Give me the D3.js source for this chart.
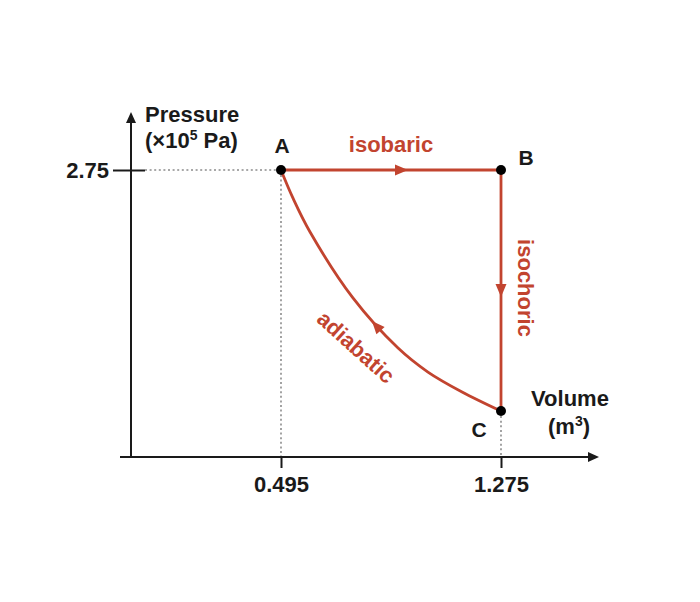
<!DOCTYPE html>
<html>
<head>
<meta charset="utf-8">
<script src="https://cdn.jsdelivr.net/npm/d3@7"></script>
<style>
  body { margin: 0; background: #fff; }
  text { font-family: "Liberation Sans", Arial, Helvetica, sans-serif; font-weight: bold; }
</style>
</head>
<body>
<div id="main-chart"></div>
<script>
// state points of the cycle
const stateLabels = ["A", "B", "C"];
const stateVolumes = [0.495, 1.275, 1.275];
const statePressures = [2.75, 2.75, 0.44];

// adiabatic curve A -> C
const adiabatVolumes = [0.495, 0.5375, 0.598, 0.750, 0.910, 1.016, 1.137, 1.275];
const adiabatPressures = [2.75, 2.48, 2.156, 1.524, 1.044, 0.814, 0.623, 0.44];

const volumeTicks = [0.495, 1.275];
const pressureTicks = [2.75];
const processNames = ["isobaric", "isochoric", "adiabatic"];

const width = 700, height = 602;
const red = "#c2442f", ink = "#1a1a1a", dotGrey = "#8c8c8c";

const svg = d3.select("#main-chart")
    .append("svg")
    .attr("width", width)
    .attr("height", height);

const x = d3.scaleLinear().domain([0.495, 1.275]).range([281, 501]);
const y = d3.scaleLinear().domain([0, 2.75]).range([457, 170]);

const originX = 131, originY = y(0);

const states = stateLabels.map((s, i) => ({ label: s, v: stateVolumes[i], p: statePressures[i] }));
const adiabat = adiabatVolumes.map((v, i) => ({ v: v, p: adiabatPressures[i] }));

// dotted guide lines
const guides = svg.append("g")
    .attr("stroke", dotGrey)
    .attr("stroke-width", 1.6)
    .attr("stroke-dasharray", "2,2.6");
guides.append("line")
    .attr("x1", originX + 14).attr("x2", x(states[0].v))
    .attr("y1", y(states[0].p)).attr("y2", y(states[0].p));
guides.append("line")
    .attr("x1", x(states[0].v)).attr("x2", x(states[0].v))
    .attr("y1", y(states[0].p) + 5).attr("y2", originY);
guides.append("line")
    .attr("x1", x(states[2].v)).attr("x2", x(states[2].v))
    .attr("y1", y(states[2].p) + 5).attr("y2", originY);

// axes
const xAxis = svg.append("g")
    .attr("transform", `translate(0,${originY})`)
    .call(d3.axisBottom(x).tickValues(volumeTicks).tickSize(11).tickFormat(d3.format(".3f")));
xAxis.select(".domain").remove();
xAxis.selectAll("line").attr("stroke", ink).attr("stroke-width", 2);
xAxis.selectAll("text")
    .attr("fill", ink).attr("dy", null).attr("y", 35)
    .style("font-size", "22px");

const yAxis = svg.append("g")
    .attr("transform", `translate(${originX},0)`)
    .call(d3.axisLeft(y).tickValues(pressureTicks).tickSize(18).tickPadding(4).tickFormat(d3.format(".2f")));
yAxis.select(".domain").remove();
yAxis.selectAll("line").attr("stroke", ink).attr("stroke-width", 2).attr("x2", 14);
yAxis.selectAll("line").attr("x1", -18);
yAxis.selectAll("text").attr("fill", ink).style("font-size", "22px");

svg.append("line")
    .attr("x1", originX).attr("x2", originX)
    .attr("y1", originY).attr("y2", 120)
    .attr("stroke", ink).attr("stroke-width", 2);
svg.append("path")
    .attr("d", `M${originX},112 L${originX - 5},123 L${originX + 5},123 Z`)
    .attr("fill", ink);
svg.append("line")
    .attr("x1", 120).attr("x2", 592)
    .attr("y1", originY).attr("y2", originY)
    .attr("stroke", ink).attr("stroke-width", 2);
svg.append("path")
    .attr("d", `M599,${originY} L588,${originY - 5} L588,${originY + 5} Z`)
    .attr("fill", ink);

// axis titles
const pLabel = svg.append("text").attr("x", 145).attr("y", 122).attr("fill", ink).style("font-size", "22px");
pLabel.text("Pressure");
const pUnit = svg.append("text").attr("x", 145).attr("y", 148).attr("fill", ink).style("font-size", "22px");
pUnit.append("tspan").text("(×10");
pUnit.append("tspan").attr("dy", -8).style("font-size", "14px").text("5");
pUnit.append("tspan").attr("dy", 8).text(" Pa)");

svg.append("text").attr("x", 570).attr("y", 406).attr("text-anchor", "middle")
    .attr("fill", ink).style("font-size", "22px").text("Volume");
const vUnit = svg.append("text").attr("x", 569).attr("y", 434).attr("text-anchor", "middle")
    .attr("fill", ink).style("font-size", "22px");
vUnit.append("tspan").text("(m");
vUnit.append("tspan").attr("dy", -8).style("font-size", "14px").text("3");
vUnit.append("tspan").attr("dy", 8).text(")");

// processes
const line = d3.line().x(d => x(d.v)).y(d => y(d.p));
const curve = d3.line().x(d => x(d.v)).y(d => y(d.p)).curve(d3.curveCatmullRom);

const procs = svg.append("g").attr("fill", "none").attr("stroke", red).attr("stroke-width", 2.8);
const ab = procs.append("path").attr("d", line([states[0], states[1]]));
const bc = procs.append("path").attr("d", line([states[1], states[2]]));
const ca = procs.append("path").attr("d", curve(adiabat.slice().reverse()));

function arrowAt(path, len) {
    const node = path.node();
    const p = node.getPointAtLength(len);
    const q = node.getPointAtLength(len - 2);
    const ang = Math.atan2(p.y - q.y, p.x - q.x) * 180 / Math.PI;
    svg.append("path")
        .attr("d", "M0,0 L-13,-5.5 L-13,5.5 Z")
        .attr("fill", red)
        .attr("transform", `translate(${p.x},${p.y}) rotate(${ang})`);
}
arrowAt(ab, 408 - x(states[0].v));
arrowAt(bc, 297 - y(states[1].p));
// find arc length on the adiabat where the arrow tip sits
(function () {
    const node = ca.node(), L = node.getTotalLength();
    let best = 0, bd = 1e9;
    for (let s = 0; s <= L; s += 0.5) {
        const p = node.getPointAtLength(s);
        const d = Math.abs(p.x - 372);
        if (d < bd) { bd = d; best = s; }
    }
    arrowAt(ca, best);
})();

// process labels
svg.append("text").attr("x", 391).attr("y", 152).attr("text-anchor", "middle")
    .attr("fill", red).style("font-size", "22px").text(processNames[0]);
svg.append("text").attr("transform", "translate(526,288) rotate(90)")
    .attr("text-anchor", "middle").attr("dy", "0.35em")
    .attr("fill", red).style("font-size", "22px").text(processNames[1]);
svg.append("text").attr("transform", "translate(356,347) rotate(42)")
    .attr("text-anchor", "middle").attr("dy", "0.35em")
    .attr("fill", red).style("font-size", "22px").text(processNames[2]);

// state points
svg.selectAll(".state")
    .data(states)
    .enter()
    .append("circle")
    .attr("class", "state")
    .attr("cx", d => x(d.v))
    .attr("cy", d => y(d.p))
    .attr("r", 5)
    .attr("fill", "#000");

const labelOffsets = { A: [1, -17], B: [25, -5], C: [-22, 26] };
svg.selectAll(".state-label")
    .data(states)
    .enter()
    .append("text")
    .attr("class", "state-label")
    .attr("x", d => x(d.v) + labelOffsets[d.label][0])
    .attr("y", d => y(d.p) + labelOffsets[d.label][1])
    .attr("text-anchor", "middle")
    .attr("fill", ink)
    .style("font-size", "21px")
    .text(d => d.label);
</script>
</body>
</html>
